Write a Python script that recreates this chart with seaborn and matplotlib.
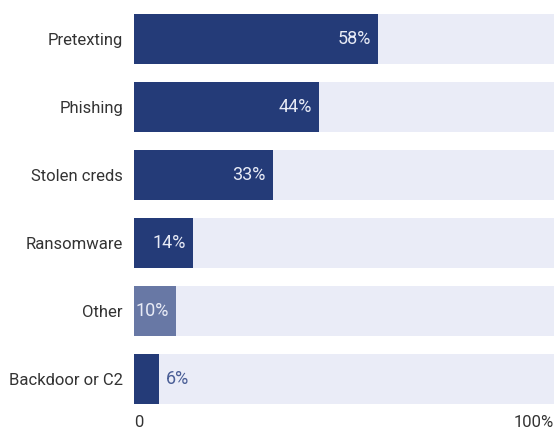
import matplotlib
matplotlib.use("Agg")
import matplotlib.pyplot as plt
import seaborn as sns
import pandas as pd

categories = ["Pretexting", "Phishing", "Stolen creds", "Ransomware", "Other", "Backdoor or C2"]
shares = [58, 44, 33, 14, 10, 6]
bar_colors = ["#243b78", "#243b78", "#243b78", "#243b78", "#6878a5", "#243b78"]
tick_labels = ["0", "100%"]

sns.set_theme(style="white")
plt.rcParams["font.family"] = ["Roboto", "DejaVu Sans"]

df = pd.DataFrame({"category": categories, "share": shares, "full": [100] * len(categories)})

fig = plt.figure(figsize=(5.54, 4.30), dpi=100)
ax = fig.add_axes([134 / 554, 1 - 413 / 430, 420 / 554, 408 / 430])

# full-width track behind each bar
sns.barplot(data=df, x="full", y="category", color="#eaecf7", width=0.735,
            saturation=1, linewidth=0, ax=ax)
# actual shares
sns.barplot(data=df, x="share", y="category", hue="category",
            palette=dict(zip(categories, bar_colors)), legend=False,
            width=0.735, saturation=1, linewidth=0, ax=ax)

ax.set_xlim(0, 100)
ax.set_ylim(5.5, -0.5)
ax.set_xlabel("")
ax.set_ylabel("")
ax.set_xticks([0, 100])
ax.set_xticklabels(tick_labels, fontsize=12, color="#333333")
ax.get_xticklabels()[0].set_horizontalalignment("left")
ax.get_xticklabels()[1].set_horizontalalignment("right")
ax.tick_params(axis="x", length=0, pad=1.5)
ax.tick_params(axis="y", length=0, pad=8, labelsize=12, labelcolor="#333333")
for s in ax.spines.values():
    s.set_visible(False)

for i, v in enumerate(shares):
    label = f"{v}%"
    if v >= 10:
        ax.annotate(label, (v, i), xytext=(-5, 0), textcoords="offset points",
                    ha="right", va="center", color="#e8ebf6", fontsize=13)
    else:
        ax.annotate(label, (v, i), xytext=(4.5, 0), textcoords="offset points",
                    ha="left", va="center", color="#4a5e96", fontsize=13)

fig.savefig("out.png", dpi=100)
